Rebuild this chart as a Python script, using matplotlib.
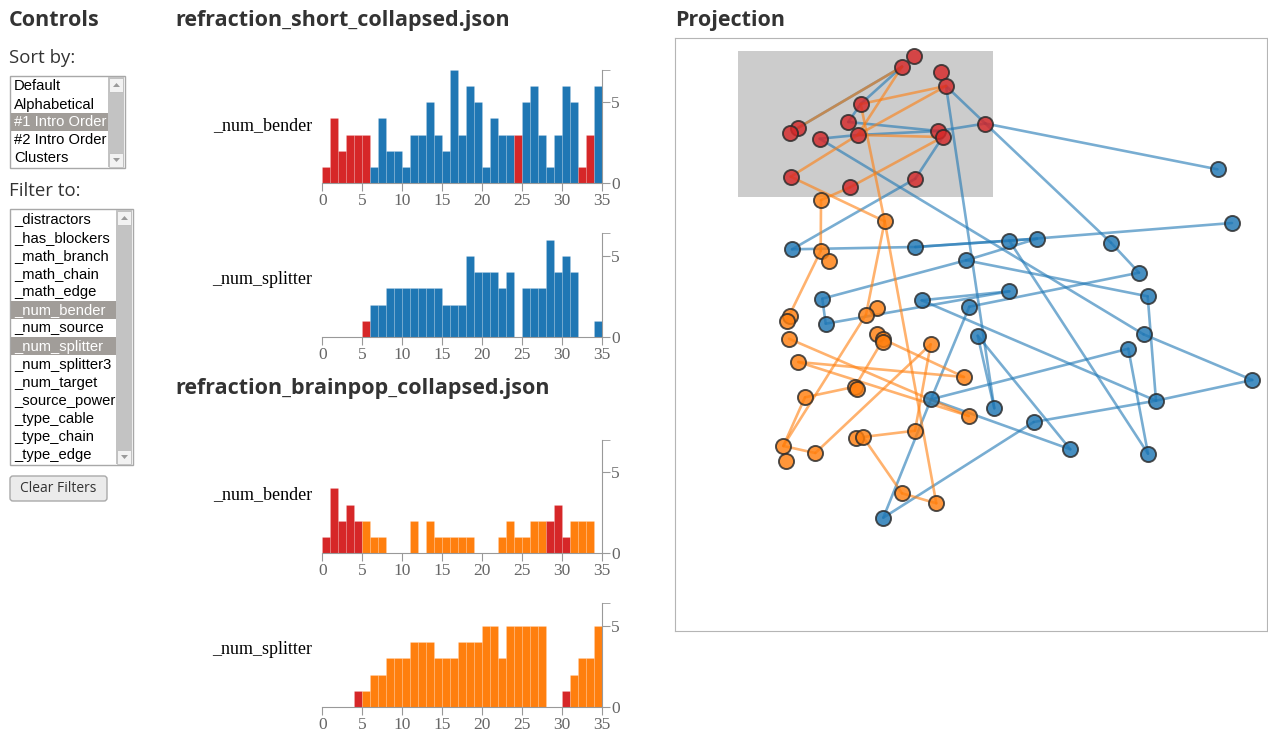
import matplotlib.pyplot as plt
from matplotlib.patches import Rectangle, FancyBboxPatch, Polygon
import numpy as np

W, H = 1268, 732

# histogram data (35 one-unit bins)
bins = np.arange(35)
short_bender = [1, 4, 2, 3, 3, 3, 1, 4, 2, 2, 1, 3, 3, 5, 3, 2, 7, 3, 6, 5, 1, 4, 3, 3, 3, 5, 6, 3, 1, 3, 6, 5, 1, 3, 6]
short_bender_sel = [0, 1, 2, 3, 4, 5, 24, 32, 33]
short_splitter = [0, 0, 0, 0, 0, 1, 2, 2, 3, 3, 3, 3, 3, 3, 3, 2, 2, 2, 5, 4, 4, 4, 3, 4, 0, 3, 3, 3, 6, 4, 5, 4, 0, 0, 1]
short_splitter_sel = [5]
brain_bender = [1, 4, 2, 3, 2, 2, 1, 1, 0, 0, 0, 2, 0, 2, 1, 1, 1, 1, 1, 0, 0, 0, 1, 2, 1, 1, 2, 2, 2, 3, 1, 2, 2, 2, 0]
brain_bender_sel = [0, 1, 2, 3, 4, 28, 29, 30]
brain_splitter = [0, 0, 0, 0, 1, 1, 2, 2, 3, 3, 3, 4, 4, 4, 3, 3, 3, 4, 4, 4, 5, 5, 3, 5, 5, 5, 5, 5, 0, 0, 1, 2, 3, 3, 5]
brain_splitter_sel = [4, 30]
x_ticks = [0, 5, 10, 15, 20, 25, 30, 35]
y_ticks = [0, 5]

# projection points (screen-like projection units)
sel_pts = {
    'R1': (913.7, 55.7), 'R2': (902, 66.7), 'R3': (941, 71.7), 'R4': (946, 86),
    'R5': (860.7, 104), 'R6': (848.3, 122), 'R7': (798.3, 127.7), 'R8': (790.3, 133.3),
    'R9': (819.7, 138.7), 'R10': (857.7, 135), 'R11': (938.3, 131), 'R12': (942.7, 137),
    'R13': (985.3, 123.5), 'R14': (790.7, 176.7), 'R15': (850, 187.3), 'R16': (915.3, 178.7),
}
short_pts = {
    'B1': (792, 249.3), 'B2': (915.3, 247), 'B3': (1009.3, 240.7), 'B4': (1037, 238.7),
    'B5': (966, 260.3), 'B6': (822.3, 298.7), 'B7': (921.7, 300.3), 'B8': (1009.3, 291.3),
    'B9': (969.3, 306.7), 'B10': (825.7, 323.7), 'B11': (977.7, 335.7), 'B12': (931, 399.3),
    'B13': (994.3, 408.3), 'B14': (1033.7, 422), 'B15': (883.3, 517.7), 'B16': (1217.5, 169.3),
    'B17': (1232, 223), 'B18': (1111, 242.7), 'B19': (1139, 272.7), 'B20': (1147.7, 296.3),
    'B21': (1143.5, 334.3), 'B22': (1128.3, 348.7), 'B23': (1252.3, 380), 'B24': (1156, 400.7),
    'B25': (1070.3, 449.3), 'B26': (1148, 453.7),
}
brain_pts = {
    'O1': (821, 200), 'O2': (884.7, 221.3), 'O3': (820.7, 251), 'O4': (828.7, 261),
    'O5': (876.7, 308.3), 'O6': (866, 314.7), 'O7': (790, 316.3), 'O8': (786.7, 320.7),
    'O9': (789, 338.7), 'O10': (876.7, 333.7), 'O11': (883.3, 339.3), 'O11b': (883.5, 342),
    'O12': (930.7, 344.3), 'O13': (798.3, 362), 'O14': (964, 377), 'O15': (855, 386.7),
    'O15b': (856.7, 389), 'O16': (805, 397.3), 'O17': (968.7, 416), 'O18': (915, 430.7),
    'O19': (856, 438), 'O20': (863, 437), 'O21': (783.3, 446), 'O22': (785.7, 460.7),
    'O23': (815.3, 453), 'O24': (902, 493.3), 'O25': (936.3, 503.3),
}
short_edges = [
    ('R2', 'R7'), ('R2', 'R5'), ('R5', 'R6'), ('R6', 'R11'), ('R9', 'R10'), ('R10', 'R11'),
    ('R11', 'R13'), ('R4', 'R13'), ('R13', 'B18'), ('R13', 'B16'), ('R4', 'B13'), ('R16', 'R12'),
    ('R16', 'B1'), ('R9', 'B21'), ('B1', 'B2'), ('B2', 'B4'), ('B2', 'B3'), ('B3', 'B17'),
    ('B6', 'B5'), ('B5', 'B4'), ('B5', 'B20'), ('B3', 'B26'), ('B6', 'B10'), ('B10', 'B8'),
    ('B7', 'B8'), ('B7', 'B24'), ('B9', 'B19'), ('B18', 'B19'), ('B20', 'B24'), ('B21', 'B23'),
    ('B24', 'B23'), ('B22', 'B26'), ('B12', 'B22'), ('B11', 'B13'), ('B11', 'B25'), ('B12', 'B25'),
    ('B15', 'B14'), ('B14', 'B24'), ('B15', 'B12'), ('B12', 'B9'),
]
brain_edges = [
    ('R2', 'R7'), ('R2', 'R10'), ('R5', 'R4'), ('R5', 'O2'), ('R10', 'R4'), ('R10', 'R12'),
    ('R14', 'R10'), ('R14', 'O2'), ('R15', 'R12'), ('R15', 'O1'), ('O1', 'O3'), ('O2', 'O6'),
    ('O2', 'O25'), ('O3', 'O8'), ('O6', 'O21'), ('O9', 'O17'), ('O13', 'O14'), ('O13', 'O17'),
    ('O11', 'O14'), ('O11', 'O15'), ('O12', 'O23'), ('O12', 'O18'), ('O18', 'O20'), ('O16', 'O15'),
    ('O16', 'O21'), ('O21', 'O23'), ('O20', 'O24'), ('O24', 'O25'),
]

sort_items = ['Default', 'Alphabetical', '#1 Intro Order', '#2 Intro Order', 'Clusters']
sort_sel = ['#1 Intro Order']
filter_items = ['_distractors', '_has_blockers', '_math_branch', '_math_chain', '_math_edge',
                '_num_bender', '_num_source', '_num_splitter', '_num_splitter3', '_num_target',
                '_source_power', '_type_cable', '_type_chain', '_type_edge']
filter_sel = ['_num_bender', '_num_splitter']

BLUE, ORANGE, RED = '#1f77b4', '#ff7f0e', '#d62728'
SANS = 'Open Sans'
LIST = 'Liberation Sans'
SERIF = 'Liberation Serif'

fig = plt.figure(figsize=(W / 100, H / 100), dpi=100)
bg = fig.add_axes([0, 0, 1, 1])
bg.set_xlim(0, W)
bg.set_ylim(H, 0)
bg.axis('off')


def px_ax(x0, y0, x1, y1):
    return fig.add_axes([x0 / W, 1 - y1 / H, (x1 - x0) / W, (y1 - y0) / H])


# headings
for x, y, t in [(9, 26, 'Controls'), (175, 26, 'refraction_short_collapsed.json'),
                (175, 394, 'refraction_brainpop_collapsed.json'), (675, 26, 'Projection')]:
    bg.text(x, y, t, family=SANS, fontweight='bold', fontsize=15.5, color='#333333', va='baseline')
bg.text(9, 63, 'Sort by:', family=SANS, fontsize=13.4, color='#333333', va='baseline')
bg.text(9, 196, 'Filter to:', family=SANS, fontsize=13.4, color='#333333', va='baseline')


def listbox(x0, y0, x1, y1, items, selected, y_first, step, sb_x):
    bg.add_patch(Rectangle((x0, y0), x1 - x0, y1 - y0, fc='white', ec='#a8a8a8', lw=1))
    for i, t in enumerate(items):
        yc = y_first + step * i
        c = 'black'
        if t in selected:
            bg.add_patch(Rectangle((x0 + 1, yc - step / 2), sb_x - x0 - 1, step, fc='#a19d99', ec='none'))
            c = 'white'
        bg.text(x0 + 4, yc + 0.5, t, family=LIST, fontsize=10.6, color=c, va='center')
    # scrollbar
    bg.add_patch(Rectangle((sb_x, y0 + 1), x1 - sb_x - 1, y1 - y0 - 2, fc='#c3c3c3', ec='none'))
    for yb, up in [(y0 + 1, True), (y1 - 16, False)]:
        bg.add_patch(Rectangle((sb_x + 1, yb + 1), x1 - sb_x - 3, 14, fc='#f2f2f2', ec='#bdbdbd', lw=0.6))
        cx, cy = (sb_x + x1) / 2, yb + 8
        tri = [(cx - 3.5, cy + 2), (cx + 3.5, cy + 2), (cx, cy - 2)] if up else \
              [(cx - 3.5, cy - 2), (cx + 3.5, cy - 2), (cx, cy + 2)]
        bg.add_patch(Polygon(tri, fc='#9a9a9a', ec='none'))


listbox(10, 76, 125, 168, sort_items, sort_sel, 86, 18, 108)
listbox(10, 209, 133, 465, filter_items, filter_sel, 219, 18.15, 116)

bg.add_patch(FancyBboxPatch((10, 476), 97, 25, boxstyle='round,pad=0,rounding_size=3',
                            fc='#ebebeb', ec='#a9a9a9', lw=1))
bg.text(58.5, 489, 'Clear Filters', family=SANS, fontsize=10, color='#333333', ha='center', va='center')


def hist(box, counts, sel, base, top, label, label_y):
    ax = px_ax(*box)
    cols = [RED if i in sel else base for i in bins]
    ax.bar(bins, counts, width=1, align='edge', color=cols, edgecolor=(1, 1, 1, 0.18), linewidth=0.5)
    ax.set_xlim(0, 35)
    ax.set_ylim(0, top)
    ax.patch.set_alpha(0)
    for s in ['top', 'left']:
        ax.spines[s].set_visible(False)
    for s in ['bottom', 'right']:
        ax.spines[s].set_color('#999999')
    ax.yaxis.tick_right()
    ax.set_xticks(x_ticks)
    ax.set_yticks(y_ticks)
    ax.set_yticks([top], minor=True)
    ax.tick_params(which='both', direction='out', length=6, color='#999999', labelcolor='#666666',
                   labelsize=12.5, pad=1)
    for t in ax.get_xticklabels() + ax.get_yticklabels():
        t.set_family(SERIF)
    bg.text(312, label_y, label, family=SERIF, fontsize=13, ha='right', va='center')


hist((322.3, 69.9, 601.7, 183.3), short_bender, short_bender_sel, BLUE, 7, '_num_bender', 126)
hist((322.3, 233, 601.7, 337.3), short_splitter, short_splitter_sel, BLUE, 6.4, '_num_splitter', 279)
hist((322.3, 439.9, 601.7, 553.3), brain_bender, brain_bender_sel, ORANGE, 7, '_num_bender', 495)
hist((322.3, 603, 601.7, 707.3), brain_splitter, brain_splitter_sel, ORANGE, 6.4, '_num_splitter', 649)

# projection panel
pj = px_ax(675, 38, 1267, 631)
pj.set_xlim(675, 1267)
pj.set_ylim(631, 38)
pj.set_xticks([])
pj.set_yticks([])
for s in pj.spines.values():
    s.set_color('#b5b5b5')
pj.add_patch(Rectangle((738, 51), 255, 146, fc='#cccccc', ec='none', zorder=0))

all_pts = {**sel_pts, **short_pts, **brain_pts}
for edges, col in [(short_edges, BLUE), (brain_edges, ORANGE)]:
    for a, b in edges:
        (xa, ya), (xb, yb) = all_pts[a], all_pts[b]
        pj.plot([xa, xb], [ya, yb], color=col, alpha=0.6, lw=1.9, solid_capstyle='round', zorder=1)

for pts, col in [(short_pts, BLUE), (brain_pts, ORANGE), (sel_pts, RED)]:
    xs = [p[0] for p in pts.values()]
    ys = [p[1] for p in pts.values()]
    pj.scatter(xs, ys, s=118, c=col, alpha=0.82, edgecolors='#2b2b2b', linewidths=1.4, zorder=3)

fig.savefig('out.png', dpi=100)
